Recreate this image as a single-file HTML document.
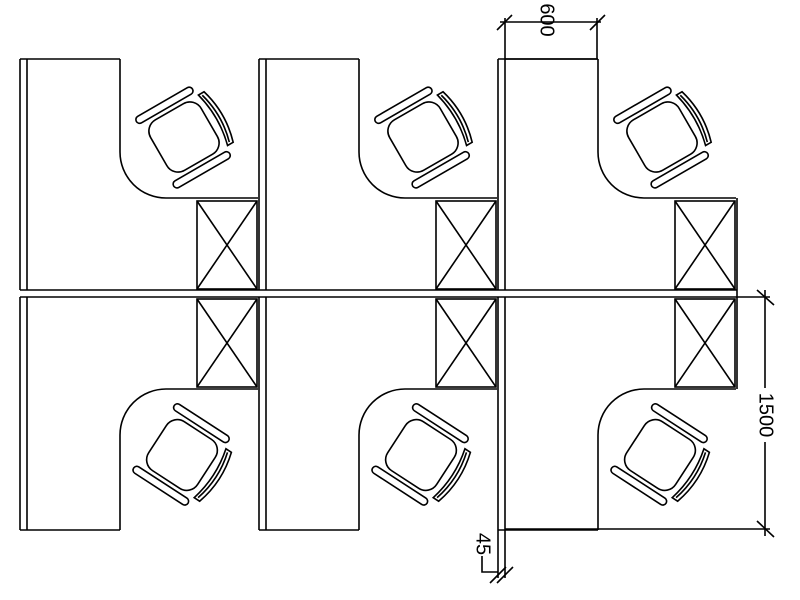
<!DOCTYPE html>
<html><head><style>html,body{margin:0;padding:0;background:#fff}svg{display:block}</style></head>
<body>
<svg width="800" height="600" viewBox="0 0 800 600" xmlns="http://www.w3.org/2000/svg">
<defs>
<g id="chair" fill="none" stroke="#000" stroke-width="1.5">
  <rect x="-27" y="-27" width="54" height="54" rx="12"/>
  <rect x="-38" y="-31" width="7" height="60" rx="3.5"/>
  <rect x="31" y="-31" width="7" height="60" rx="3.5"/>
  <path d="M-27 31 Q0 38 27 31 L27 37 Q0 45 -27 37 Z"/>
  <path d="M-25 34 Q0 41 25 34"/>
</g>
<g id="top" fill="none" stroke="#000" stroke-width="1.6">
  <line x1="20" y1="59" x2="20" y2="290"/>
  <line x1="27" y1="59" x2="27" y2="290"/>
  <line x1="20" y1="59" x2="120" y2="59"/>
  <path d="M120 59 V152 A46 46 0 0 0 166 198 H258"/>
  <rect x="197" y="201" width="60" height="88"/>
  <line x1="197" y1="201" x2="257" y2="289"/>
  <line x1="257" y1="201" x2="197" y2="289"/>
</g>
<g id="bot" fill="none" stroke="#000" stroke-width="1.6">
  <line x1="20" y1="297" x2="20" y2="530"/>
  <line x1="27" y1="297" x2="27" y2="530"/>
  <line x1="20" y1="530" x2="120" y2="530"/>
  <path d="M120 530 V435 A46 46 0 0 1 166 389 H258"/>
  <rect x="197" y="299" width="60" height="88"/>
  <line x1="197" y1="299" x2="257" y2="387"/>
  <line x1="257" y1="299" x2="197" y2="387"/>
</g>
</defs>
<g>
<use href="#top"/><use href="#top" x="239"/><use href="#top" x="478"/>
<use href="#bot"/><use href="#bot" x="239"/><use href="#bot" x="478"/>
<use href="#chair" transform="translate(184,137) rotate(-120) scale(1.08)"/>
<use href="#chair" transform="translate(423,137) rotate(-120) scale(1.08)"/>
<use href="#chair" transform="translate(662,137) rotate(-120) scale(1.08)"/>
<use href="#chair" transform="translate(182,455) rotate(-57) scale(1.08)"/>
<use href="#chair" transform="translate(421,455) rotate(-57) scale(1.08)"/>
<use href="#chair" transform="translate(660,455) rotate(-57) scale(1.08)"/>
</g>
<g fill="none" stroke="#000" stroke-width="1.6">
  <line x1="20" y1="290" x2="737" y2="290"/>
  <line x1="20" y1="297" x2="770" y2="297"/>
  <line x1="498" y1="530" x2="498" y2="578"/>
  <line x1="505" y1="530" x2="505" y2="578"/>
  <line x1="737" y1="198" x2="737" y2="389"/>
  <line x1="505" y1="529" x2="770" y2="529"/>
  <line x1="505" y1="59" x2="597" y2="59"/>
  <line x1="505" y1="59" x2="505" y2="18"/>
  <line x1="597" y1="59" x2="597" y2="18"/>
  <line x1="500" y1="22" x2="601" y2="22"/>
  <line x1="497" y1="30" x2="512" y2="15"/>
  <line x1="590" y1="30" x2="605" y2="15"/>
  <line x1="765" y1="290" x2="765" y2="536"/>
  <line x1="757" y1="290" x2="774" y2="305"/>
  <line x1="757" y1="521" x2="774" y2="537"/>
  <line x1="490" y1="583" x2="506" y2="567"/>
  <line x1="497" y1="583" x2="513" y2="567"/>
  <polyline points="482,556 482,572 498,572"/>
</g>
<rect x="754" y="388" width="22" height="54" fill="#fff"/>
<g font-family="Liberation Sans, sans-serif" font-size="20" fill="#000">
  <text transform="translate(546,20) rotate(90)" text-anchor="middle" dominant-baseline="middle">600</text>
  <text transform="translate(765,415) rotate(90)" text-anchor="middle" dominant-baseline="middle">1500</text>
  <text transform="translate(482,544) rotate(90)" text-anchor="middle" dominant-baseline="middle">45</text>
</g>
</svg>
</body></html>
